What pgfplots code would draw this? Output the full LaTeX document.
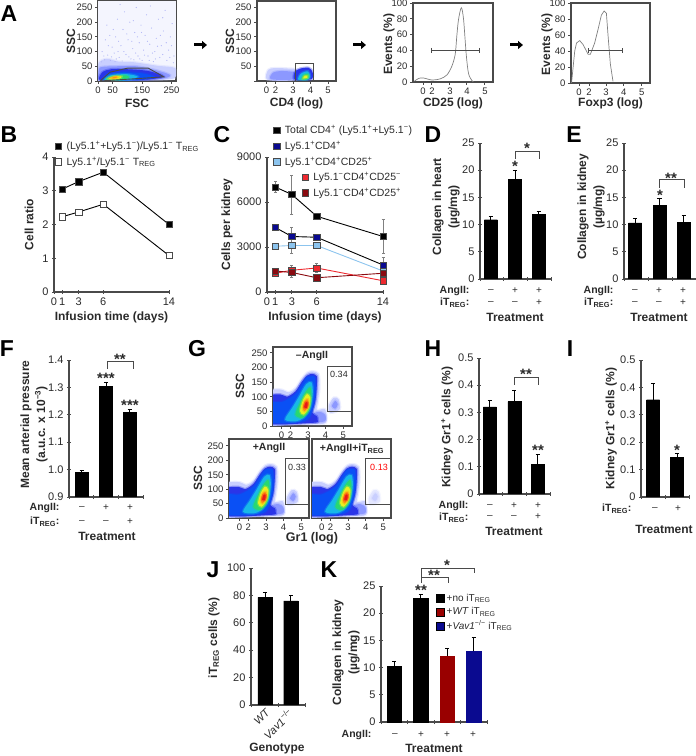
\documentclass[border=0pt]{standalone}
\usepackage{pgfplots}
\pgfplotsset{compat=1.18}
\usepackage{fontspec}
\setmainfont{Liberation Sans}
\usetikzlibrary{arrows.meta}

\definecolor{axc}{HTML}{4A4A4A}
\definecolor{txt}{HTML}{2A2A2A}
\definecolor{haze}{HTML}{C9CFFF}
\definecolor{halo}{HTML}{8C98FF}
\definecolor{deep}{HTML}{2A35E8}
\definecolor{mid}{HTML}{0A50F5}
\definecolor{cyn}{HTML}{18B8E8}
\definecolor{grn}{HTML}{28D870}
\definecolor{yel}{HTML}{E8F020}
\definecolor{org}{HTML}{FF9010}
\definecolor{rd}{HTML}{E81818}
\definecolor{lblue}{HTML}{8CC4EE}
\definecolor{dblue}{HTML}{0A0A90}
\definecolor{lred}{HTML}{EE2A30}
\definecolor{dred}{HTML}{8A0A10}

\newcommand{\fs}[1]{\fontsize{#1}{#1}\selectfont}
\newcommand{\up}{\textsuperscript{+}}
\newcommand{\dn}{\textsuperscript{−}}
\newcommand{\treg}{T\textsubscript{REG}}
% filled density level with a soft edge
\newcommand{\blob}[2]{\addplot[fill=#1,draw=#1,draw opacity=.35,line width=2.4pt,smooth cycle,forget plot] coordinates {#2};}

% density shape shared by the three Gr1 panels
\newcommand{\grcloud}[2]{%
\blob{haze}{(0.5,112)(1.4,125)(1.9,115)(2.3,130)(2.65,162)(2.95,182)(3.25,187)(3.6,178)(3.65,130)(3.55,80)(3.5,55)(3.95,58)(4.05,30)(3.9,8)(2.5,7)(0.5,7)}
\blob{halo}{(3.2,14)(3.3,42)(3.7,48)(3.98,38)(3.95,16)}
\blob{#1}{(4.17,68)(4.46,97)(4.74,91)(4.80,57)(4.27,45)}
\blob{#2}{(4.36,68)(4.55,86)(4.69,74)(4.55,59)}
\blob{deep}{(0.5,97)(1.43,108)(1.81,100)(2.28,118)(2.66,152)(2.94,172)(3.23,178)(3.5,170)(3.5,138)(3.42,86)(3.25,45)(3.5,34)(3.55,20)(3.3,11)(0.5,11)}
\blob{mid}{(0.5,80)(1.5,82)(2.28,109)(2.66,143)(2.94,167)(3.2,170)(3.4,165)(3.42,109)(3.23,51)(2.75,16)(0.5,14)}
\blob{cyn}{(1.7,22)(2.1,62)(2.45,97)(2.9,143)(3.2,149)(3.27,114)(3.13,62)(2.75,28)(2.3,16)}
\blob{grn}{(2.28,39)(2.55,80)(2.84,114)(3.13,132)(3.19,97)(3.04,51)(2.66,28)}
\blob{yel}{(2.55,51)(2.7,86)(2.94,109)(3.13,97)(3.04,62)(2.75,39)}
\blob{org}{(2.7,62)(2.82,86)(3.0,91)(3.02,68)(2.8,51)}
\blob{rd}{(2.78,64)(2.86,80)(2.98,80)(2.94,62)}
}

\pgfplotsset{
  base/.style={scale only axis, axis line style={draw=axc,line width=1.1pt},
    tick style={draw=axc,line width=0.9pt}, tick align=outside, major tick length=4pt,
    ticklabel style={font=\fs{11},text=txt}, /pgf/number format/assume math mode=true,
    /pgf/number format/1000 sep={}, scaled ticks=false,
    label style={font=\bfseries\fontsize{12}{16}\selectfont,text=txt,align=center}},
  flow/.style={base, tick pos=left, ticklabel style={font=\fs{9.5},text=txt}, major tick length=3pt,
    xticklabel style={yshift=1pt}, yticklabel style={xshift=1pt}},
  open/.style={base, axis x line=bottom, axis y line=left, axis line style={-,draw=axc,line width=1.1pt}},
  ylab/.style 2 args={ylabel style={at={(axis description cs:0,#2)},yshift=#1,anchor=center}},
  xlab/.style 2 args={xlabel style={at={(axis description cs:#2,0)},yshift=-#1,anchor=center}},
  barp/.style={ybar,bar width=#1,bar shift=0pt,fill=black,draw=black,
    error bars/y dir=plus,error bars/y explicit,error bars/error bar style={line width=1pt,black},
    error bars/error mark=|,error bars/error mark options={mark size=2.2pt,line width=.7pt,black}},
  linep/.style 2 args={color=#1,line width=.9pt,mark=square*,mark size=3.2pt,mark options={fill=#2,draw=axc,line width=.5pt,solid},
    error bars/y dir=both,error bars/y explicit,error bars/error bar style={line width=.9pt,gray},
    error bars/error mark=|,error bars/error mark options={mark size=1.5pt,line width=.6pt,gray}},
  sqleg/.style={legend image code/.code={\draw[##1] plot coordinates {(0pt,0pt)};},
    legend cell align=left,legend style={draw=none,fill=none,font=\fs{10.5},text=txt,anchor=north west,row sep=2pt,column sep=3pt,inner sep=0pt}},
  barleg/.style={legend image code/.code={\path[##1,draw=black,line width=.4pt,fill opacity=1] (0pt,-4pt) rectangle (8pt,4pt);},
    legend cell align=left,legend style={draw=none,fill=none,font=\fs{10},text=txt,anchor=north west,row sep=0.5pt,inner sep=0pt}},
}

\begin{document}
\begin{tikzpicture}
\path[use as bounding box] (0pt,0pt) rectangle (696pt,756pt);

% A: scatter gates and histograms
\begin{axis}[flow,at={(98pt,675pt)},anchor=south west,width=78pt,height=80pt,
  xmin=0,xmax=265,ymin=0,ymax=272,xtick={0,50,150,250},ytick={0,50,100,150,200,250},
  xlabel={FSC},ylabel={SSC},ylab={27pt}{0.5},xlab={22pt}{0.5}]
\addplot[fill=deep!5,draw=none,forget plot] coordinates {(0,40)(0,272)(265,272)(265,40)};
\addplot[only marks,mark=*,mark size=.3pt,color=deep!35,forget plot] coordinates {
(20,85)(35,120)(42,70)(55,95)(60,150)(66,210)(72,80)(78,120)(85,175)(90,235)(95,90)(102,140)(108,200)(112,75)(118,110)
(125,165)(130,250)(136,85)(140,130)(146,190)(150,70)(155,105)(160,155)(165,225)(170,85)(176,125)(182,180)(188,66)(193,100)
(198,145)(205,210)(210,80)(215,120)(222,170)(228,240)(234,70)(240,105)(246,150)(252,195)(258,85)(12,65)(25,140)(30,190)
(48,115)(52,175)(62,75)(70,135)(82,68)(88,100)(98,160)(105,82)(115,135)(122,72)(128,95)(134,150)(142,75)(148,165)(158,88)
(168,135)(174,70)(185,95)(195,75)(202,118)(212,155)(220,90)(232,130)(244,80)(250,120)(256,62)(40,155)(75,260)(120,205)
(178,255)(220,215)(14,100)(22,72)(33,88)(46,82)(58,66)(68,100)};
\blob{haze}{(2,60)(30,75)(70,66)(120,64)(200,52)(262,44)(264,15)(240,6)(120,2)(0,-2)}
\blob{halo}{(3,40)(15,48)(60,50)(130,50)(200,36)(245,20)(220,8)(120,3)(10,0)}
\blob{deep}{(5,4)(15,30)(45,40)(100,40)(170,34)(222,16)(170,5)(60,2)}
\blob{mid}{(18,4)(35,25)(80,30)(150,26)(190,14)(140,5)(60,2)}
\blob{cyn}{(22,4)(45,20)(100,23)(135,15)(110,5)(60,2)}
\blob{grn}{(28,5)(50,16)(95,19)(105,11)(75,4)}
\blob{yel}{(36,8)(55,16)(80,15)(72,8)(50,5)}
\blob{org}{(45,10)(60,15)(66,13)(55,9)}
\addplot[draw=axc,line width=.9pt,forget plot] coordinates {(7,0)(41,30)(102,44)(170,44)(224,14)(7,0)};
\end{axis}

\begin{axis}[flow,at={(257pt,675pt)},anchor=south west,width=79pt,height=80pt,
  xmin=0.94,xmax=5.46,ymin=0,ymax=272,xtick={1.49,2,3,4,5},xticklabels={0,2,3,4,5},
  ytick={0,50,100,150,200,250},yticklabels={,50,100,150,200,250},
  xlabel={CD4 (log)},ylabel={SSC},ylab={27pt}{0.5},xlab={22pt}{0.5}]
\blob{haze}{(1.55,4)(1.58,38)(2.0,44)(2.8,42)(3.2,38)(3.2,4)}
\blob{halo}{(1.75,6)(1.85,28)(2.3,34)(2.9,32)(3.15,28)(3.15,6)}
\blob{deep}{(3.1,5)(3.1,30)(3.4,42)(3.9,45)(4.12,30)(4.05,6)}
\blob{cyn}{(3.3,5)(3.45,25)(3.85,33)(3.98,15)(3.8,4)}
\blob{grn}{(3.5,7)(3.6,20)(3.85,24)(3.9,12)(3.7,5)}
\blob{yel}{(3.58,9)(3.68,18)(3.82,18)(3.82,11)}
\addplot[draw=axc,line width=1pt,forget plot] coordinates {(3.17,0)(3.17,60)(4.2,60)(4.2,0)};
\end{axis}

\begin{axis}[flow,at={(413pt,674pt)},anchor=south west,width=80pt,height=79pt,
  xmin=0.89,xmax=5.46,ymin=0,ymax=100,xtick={1.46,1.97,3,3.97,5},xticklabels={0,2,3,4,5},
  ytick={0,20,40,60,80,100},
  xlabel={CD25 (log)},ylabel={Events (\%)},ylab={24pt}{0.48},xlab={21pt}{0.5}]
\addplot[gray,line width=.7pt,smooth,forget plot] coordinates {(0.97,1)(1.22,4.6)(1.5,5)(1.98,2.5)(2.45,4)(2.83,9)(3.11,20)(3.3,35)(3.4,60)(3.49,79)(3.65,94)(3.78,79)(3.93,35)(4.06,11)(4.25,2)(4.35,0)};
\addplot[draw=axc,line width=1pt,mark=|,mark size=2.5pt,forget plot] coordinates {(1.97,40)(4.71,40)};
\end{axis}

\begin{axis}[flow,at={(571pt,673pt)},anchor=south west,width=79pt,height=80pt,
  xmin=1.03,xmax=5.47,ymin=0,ymax=100,xtick={1.48,2.04,3,4,5},xticklabels={0,2,3,4,5},
  ytick={0,20,40,60,80,100},
  xlabel={Foxp3 (log)},ylabel={Events (\%)},ylab={24pt}{0.48},xlab={20pt}{0.5}]
\addplot[gray,line width=.7pt,forget plot] coordinates {(1.06,0)(1.24,40)(1.34,50)(1.52,53)(1.71,48)(1.99,36)(2.12,36)(2.36,50)(2.55,67)(2.74,85)(2.89,90)(3.02,87)(3.11,60)(3.24,24)(3.39,2)};
\addplot[draw=axc,line width=1pt,mark=|,mark size=2.5pt,forget plot] coordinates {(2.04,40)(3.9,40)};
\end{axis}

% B
\begin{axis}[open,sqleg,clip=false,at={(54pt,464pt)},anchor=south west,width=115pt,height=135pt,
  xmin=0,xmax=14,ymin=0,ymax=4,xtick={0,1,3,6,14},ytick={0,1,2,3,4},
  xlabel={Infusion time (days)},ylabel={Cell ratio},ylab={25pt}{0.5},xlab={25pt}{0.5},
  legend style={at={(axis description cs:0.01,1.133)}}]
\addplot[linep={black}{black}] coordinates {(1,3.05)(3,3.27)(6,3.55)(14,2.0)};
\addplot[linep={black}{white}] coordinates {(1,2.23)(3,2.37)(6,2.6)(14,1.08)};
\addlegendentry{(Ly5.1\up+Ly5.1\dn)/Ly5.1\dn\ \treg}
\addlegendentry{Ly5.1\up/Ly5.1\dn\ \treg}
\end{axis}

% C
\begin{axis}[open,sqleg,clip=false,at={(267pt,464pt)},anchor=south west,width=116pt,height=135pt,
  xmin=0,xmax=14,ymin=0,ymax=9000,xtick={0,1,3,6,14},ytick={0,3000,6000,9000},
  xlabel={Infusion time (days)},ylabel={Cells per kidney},ylab={40pt}{0.5},xlab={25pt}{0.5},
  legend style={at={(axis description cs:0.055,1.25)}}]
\addplot[linep={black}{black}] coordinates {(1,7000) +- (0,350) (3,6500) +- (0,1300) (6,5050) +- (0,100) (14,3700) +- (0,1150)};
\addplot[linep={black}{dblue}] coordinates {(1,4300) +- (0,100) (3,3700) +- (0,600) (6,3650) +- (0,100) (14,1800) +- (0,500)};
\addplot[linep={lblue}{lblue}] coordinates {(1,3050) +- (0,100) (3,3100) +- (0,500) (6,3100) +- (0,200) (14,1400) +- (0,300)};
\addlegendentry{Total CD4\up\ (Ly5.1\up+Ly5.1\dn)}
\addlegendentry{Ly5.1\up CD4\up}
\addlegendentry{Ly5.1\up CD4\up CD25\up}
\end{axis}
\begin{axis}[base,sqleg,clip=false,at={(267pt,464pt)},anchor=south west,width=116pt,height=135pt,
  xmin=0,xmax=14,ymin=0,ymax=9000,axis lines=none,
  legend style={at={(axis description cs:0.3,0.904)}}]
\addplot[linep={lred}{lred}] coordinates {(1,1250) +- (0,150) (3,1450) +- (0,300) (6,1600) +- (0,300) (14,750) +- (0,250)};
\addplot[linep={dred}{dred}] coordinates {(1,1400) +- (0,100) (3,1300) +- (0,300) (6,950) +- (0,100) (14,1250) +- (0,150)};
\addlegendentry{Ly5.1\dn CD4\up CD25\dn}
\addlegendentry{Ly5.1\dn CD4\up CD25\up}
\end{axis}

% D
\begin{axis}[open,at={(480pt,477pt)},anchor=south west,width=71pt,height=136pt,
  xmin=0,xmax=3,ymin=0,ymax=25,xtick={0,1,2,3},xticklabels={},ytick={0,5,10,15,20,25},
  ylabel={Collagen in heart\\(µg/mg)},ylab={34pt}{0.53}]
\addplot[barp=13pt] coordinates {(0.46,10.9) +- (0,0.6) (1.48,18.3) +- (0,1.6) (2.49,11.9) +- (0,0.5)};
\end{axis}

% E
\begin{axis}[open,at={(624pt,477pt)},anchor=south west,width=72pt,height=136pt,
  xmin=0,xmax=3,ymin=0,ymax=25,xtick={0,1,2,3},xticklabels={},ytick={0,5,10,15,20,25},
  ylabel={Collagen in kidney\\(µg/mg)},ylab={33pt}{0.53}]
\addplot[barp=13pt] coordinates {(0.46,10.3) +- (0,0.9) (1.48,13.6) +- (0,1.3) (2.49,10.4) +- (0,1.3)};
\end{axis}

% F
\begin{axis}[open,at={(69pt,259pt)},anchor=south west,width=74.5pt,height=137pt,
  xmin=0,xmax=3,ymin=0.9,ymax=1.4,xtick={0,1,2,3},xticklabels={},ytick={0.9,1.0,1.1,1.2,1.3,1.4},
  yticklabel style={/pgf/number format/fixed,/pgf/number format/fixed zerofill,/pgf/number format/precision=1},
  ylabel={Mean arterial pressure\\(a.u.c. x 10\textsuperscript{−3})},ylab={35pt}{0.53}]
\addplot[barp=13pt] coordinates {(0.52,0.99) +- (0,0.008) (1.49,1.305) +- (0,0.015) (2.45,1.21) +- (0,0.01)};
\end{axis}

% G
\begin{axis}[flow,at={(273pt,330pt)},anchor=south west,width=79pt,height=79pt,
  xmin=1.01,xmax=5.5,ymin=0,ymax=270,xtick={1.5,2,3,4,5},xticklabels={0,2,3,4,5},
  ytick={0,50,100,150,200,250},ylabel={SSC},ylab={33pt}{0.5}]
\grcloud{haze}{halo}
\addplot[draw=axc,line width=.8pt,forget plot] coordinates {(5.5,205)(4.08,205)(4.08,50)(5.5,50)};
\end{axis}

\begin{axis}[flow,at={(229pt,238pt)},anchor=south west,width=80pt,height=79pt,
  xmin=0.9,xmax=5.44,ymin=0,ymax=274,xtick={1.5,2,3,4,5},xticklabels={0,2,3,4,5},
  ytick={0,50,100,150,200,250},ylabel={SSC},ylab={31pt}{0.5}]
\grcloud{haze}{halo}
\addplot[draw=axc,line width=.8pt,forget plot] coordinates {(5.44,205)(4.08,205)(4.08,48)(5.44,48)};
\end{axis}

\begin{axis}[flow,at={(312pt,238pt)},anchor=south west,width=79pt,height=79pt,
  xmin=0.95,xmax=5.44,ymin=0,ymax=274,xtick={1.5,2,3,4,5},xticklabels={0,2,3,4,5},
  ytick=\empty]
\grcloud{haze!50}{haze}
\addplot[draw=axc,line width=.8pt,forget plot] coordinates {(5.44,205)(3.97,205)(3.97,48)(5.44,48)};
\end{axis}

% H
\begin{axis}[open,at={(479pt,262pt)},anchor=south west,width=71pt,height=136pt,
  xmin=0,xmax=3,ymin=0,ymax=0.5,xtick={0,1,2,3},xticklabels={},ytick={0,0.1,0.2,0.3,0.4,0.5},
  yticklabel style={/pgf/number format/fixed},
  ylabel={Kidney Gr1\up\ cells (\%)},ylab={32pt}{0.49}]
\addplot[barp=13pt] coordinates {(0.46,0.32) +- (0,0.025) (1.49,0.34) +- (0,0.04) (2.49,0.11) +- (0,0.035)};
\end{axis}

% I
\begin{axis}[open,at={(641pt,259pt)},anchor=south west,width=48pt,height=137pt,
  xmin=0,xmax=2,ymin=0,ymax=0.5,xtick={0,1,2},xticklabels={},ytick={0,0.1,0.2,0.3,0.4,0.5},
  yticklabel style={/pgf/number format/fixed},
  ylabel={Kidney Gr1\up\ cells (\%)},ylab={30pt}{0.5}]
\addplot[barp=13pt] coordinates {(0.5,0.355) +- (0,0.06) (1.5,0.145) +- (0,0.015)};
\end{axis}

% J
\begin{axis}[open,at={(251pt,51pt)},anchor=south west,width=54pt,height=137pt,
  xmin=0,xmax=2,ymin=0,ymax=100,xtick={0,1,2},xticklabels={},ytick={0,20,40,60,80,100},
  ylabel={iT\textsubscript{REG} cells (\%)},ylab={37pt}{0.49},xlabel={Genotype},xlab={44pt}{0.48}]
\addplot[barp=14.5pt] coordinates {(0.52,78.5) +- (0,4) (1.48,76) +- (0,4)};
\end{axis}

% K
\begin{axis}[open,barleg,at={(381pt,34pt)},anchor=south west,width=106pt,height=136pt,
  xmin=0,xmax=4,ymin=0,ymax=25,xtick={0,1,2,3,4},xticklabels={},ytick={0,5,10,15,20,25},
  ylabel={Collagen in kidney\\(µg/mg)},ylab={35pt}{0.51},
  legend style={at={(axis description cs:0.52,0.956)}}]
\addplot[barp=14.5pt,forget plot] coordinates {(0.5,10.2) +- (0,0.9)};
\addplot[barp=14.5pt] coordinates {(1.5,22.7) +- (0,0.7)};
\addplot[barp=14.5pt,fill=red!60!black,draw=red!60!black] coordinates {(2.5,12.1) +- (0,1.5)};
\addplot[barp=14.5pt,fill=dblue,draw=dblue] coordinates {(3.5,13) +- (0,2.6)};
\addlegendentry{+no iT\textsubscript{REG}}
\addlegendentry{+\textit{WT} iT\textsubscript{REG}}
\addlegendentry{+\textit{Vav1}\textsuperscript{−/−} iT\textsubscript{REG}}
\end{axis}

% text placed in reference pixels, y running down
\begin{scope}[x=1pt,y=-1pt,yshift=756pt,text=txt,
  lab/.style={font=\bfseries\fs{12}},row/.style={font=\bfseries\fs{10.5},anchor=east},
  pm/.style={font=\fs{10}},star/.style={font=\bfseries\fs{15},inner sep=0pt},
  brk/.style={draw=axc,line width=.9pt},letter/.style={font=\bfseries\fs{23},text=black},
  arr/.style={draw=black,line width=3pt,-{Triangle[length=5pt,width=8pt]}}]
% panel letters
\node[letter] at (9,14) {A}; \node[letter] at (9,135) {B}; \node[letter] at (222,135) {C};
\node[letter] at (433,135) {D}; \node[letter] at (574,135) {E}; \node[letter] at (7,349) {F};
\node[letter] at (197,349) {G}; \node[letter] at (433,349) {H}; \node[letter] at (570,349) {I};
\node[letter] at (213,570) {J}; \node[letter] at (329,570) {K};
% arrows between the gates
\draw[arr] (194,45) -- (207,45); \draw[arr] (353,45) -- (366,45); \draw[arr] (510,45) -- (523,45);
% D
\node[row] at (473,291) {AngII:}; \node[row] at (473,303) {iT\textsubscript{REG}:};
\foreach \x/\a/\b in {491/–/–,515/+/–,539/+/+}{\node[pm] at (\x,291) {\a}; \node[pm] at (\x,303) {\b};}
\node[lab] at (515,317) {Treatment};
\draw[brk] (515,159) -- (515,151) -- (539,151) -- (539,159);
\node[star] at (527,148) {*}; \node[star] at (515,166) {*};
% E
\node[row] at (617,291) {AngII:}; \node[row] at (617,303) {iT\textsubscript{REG}:};
\foreach \x/\a/\b in {635/–/–,659/+/–,683/+/+}{\node[pm] at (\x,291) {\a}; \node[pm] at (\x,303) {\b};}
\node[lab] at (659,317) {Treatment};
\draw[brk] (659,188) -- (659,179) -- (684,179) -- (684,188);
\node[star] at (671,178) {**}; \node[star] at (660,195) {*};
% F
\node[row] at (63,508) {AngII:}; \node[row] at (63,522) {iT\textsubscript{REG}:};
\foreach \x/\a/\b in {82/–/–,106/+/–,130/+/+}{\node[pm] at (\x,508) {\a}; \node[pm] at (\x,522) {\b};}
\node[lab] at (107,536) {Treatment};
\draw[brk] (107,369) -- (107,361) -- (133,361) -- (133,369);
\node[star] at (120,359) {**}; \node[star] at (106,378) {***}; \node[star] at (130,405) {***};
% G
\node[font=\bfseries\fs{10.5}] at (312,356) {–AngII};
\node[font=\bfseries\fs{10.5}] at (269,448) {+AngII};
\node[font=\bfseries\fs{10.5}] at (352,449) {+AngII+iT\textsubscript{REG}};
\node[font=\fs{9}] at (339,374) {0.34}; \node[font=\fs{9}] at (297,467) {0.33};
\node[font=\fs{9},text=red] at (379,467) {0.13};
\node[lab,font=\bfseries\fs{12.5}] at (312,538) {Gr1 (log)};
% H
\node[row] at (472,506) {AngII:}; \node[row] at (472,518) {iT\textsubscript{REG}:};
\foreach \x/\a/\b in {490/–/–,514/+/–,538/+/+}{\node[pm] at (\x,506) {\a}; \node[pm] at (\x,517) {\b};}
\node[lab] at (514,531) {Treatment};
\draw[brk] (514,385) -- (514,377) -- (538,377) -- (538,385);
\node[star] at (526,374) {**}; \node[star] at (538,450) {**};
% I
\node[row] at (635,509) {iT\textsubscript{REG}:};
\node[pm] at (655,509) {–}; \node[pm] at (678,509) {+};
\node[lab] at (664,529) {Treatment};
\node[star] at (677,450) {*};
% J
\node[font=\fs{11},rotate=45] at (262,717) {\textit{WT}};
\node[font=\fs{11},rotate=45] at (278,724) {\textit{Vav1}\textsuperscript{−/−}};
% K
\node[row] at (375,735) {AngII:};
\foreach \x/\a in {395/–,421/+,447/+,473/+}{\node[pm] at (\x,735) {\a};}
\node[lab] at (434,748) {Treatment};
\draw[brk] (421,583) -- (421,568) -- (474,568) -- (474,573);
\draw[brk] (421,577) -- (448,577) -- (448,583);
\node[star] at (434,575) {**}; \node[star] at (447,565) {*}; \node[star] at (421,590) {**};
\end{scope}
\end{tikzpicture}
\end{document}
